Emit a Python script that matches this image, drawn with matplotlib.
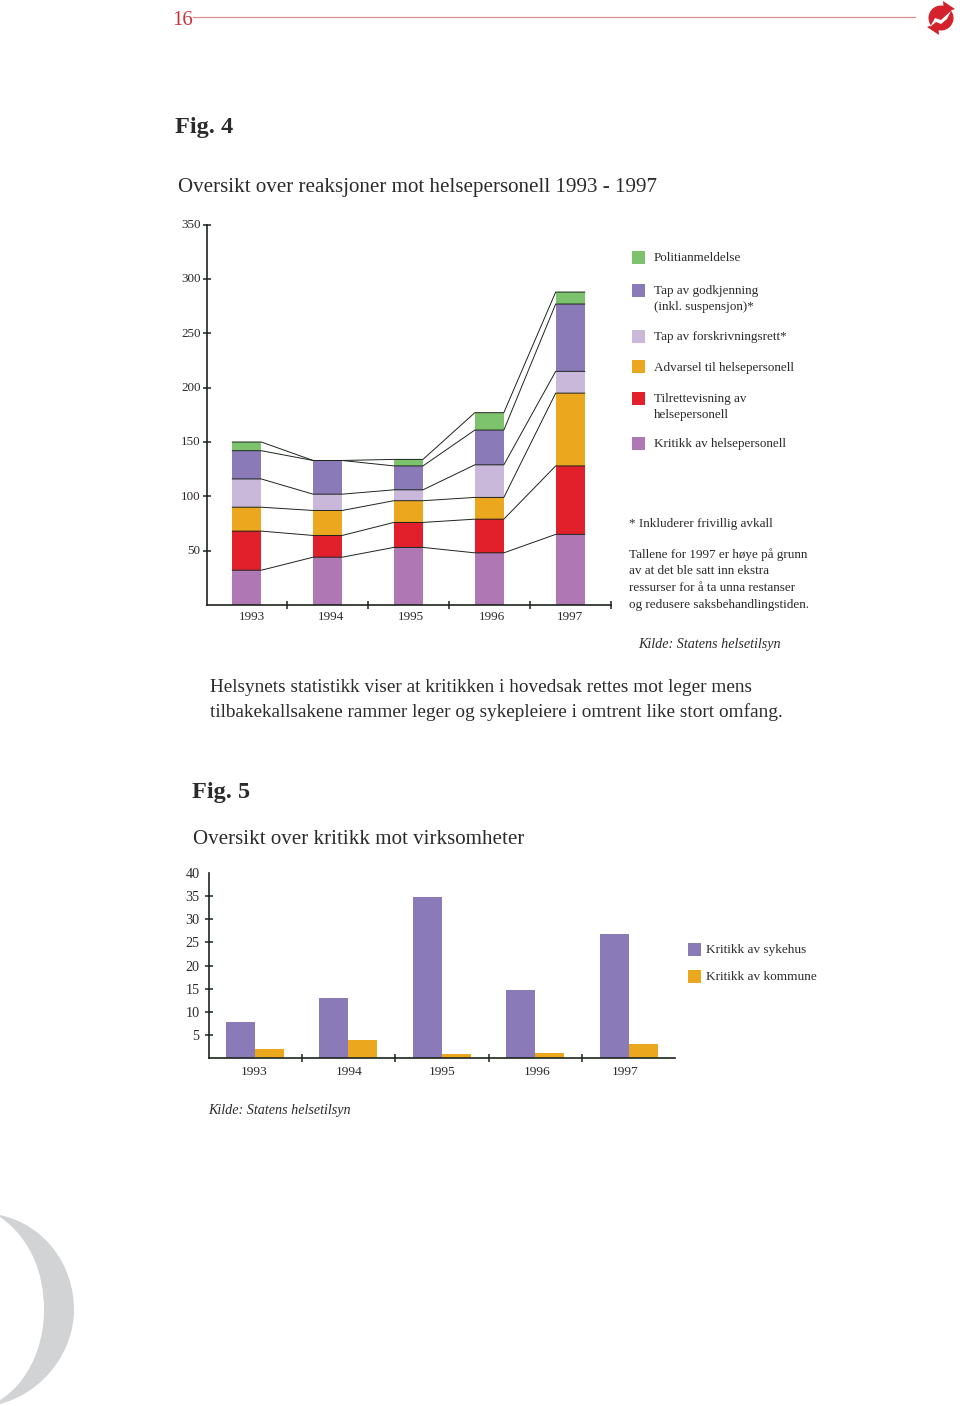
'''
Fig. 4 and Fig. 5, report page with two bar charts
'''

# import
import matplotlib
matplotlib.use('Agg')
import matplotlib.pyplot as plt
from matplotlib.patches import Circle, PathPatch, Polygon, Rectangle
from matplotlib.path import Path
from matplotlib.transforms import ScaledTranslation

plt.rcParams['font.family'] = ['Liberation Serif', 'DejaVu Serif']

# Fig. 4 data
years = ['1993', '1994', '1995', '1996', '1997']
kritikk = [32, 44, 53, 48, 65]
tilrettevisning = [36, 20, 23, 31, 63]
advarsel = [22, 23, 20, 20, 67]
forskrivning = [26, 15, 10, 30, 20]
godkjenning = [26, 31, 22, 32, 62]
politi = [8, 0, 6, 16, 11]
y_ticks_4 = [50, 100, 150, 200, 250, 300, 350]

# Fig. 5 data
sykehus = [7.8, 13, 34.8, 14.8, 26.8]
kommune = [2, 4, 1, 1.2, 3]
y_ticks_5 = [5, 10, 15, 20, 25, 30, 35, 40]

# Global parameters
W = 960
H = 1406
SMALL = 9.46
INK = '#1c241c'
TEXT = '#2b2b2b'
RED_LINE = '#d9908c'
LOGO_RED = '#d3222c'
C_KRITIKK = '#b077b5'
C_TILRETTE = '#e1202b'
C_ADVARSEL = '#eba81f'
C_FORSKRIV = '#c9b8da'
C_GODKJ = '#8b7ab8'
C_POLITI = '#7dc36d'

fig = plt.figure(figsize=(W / 100, H / 100), dpi=100)


def axes_px(left, right, top, bottom):
    return fig.add_axes([left / W, 1 - bottom / H, (right - left) / W, (bottom - top) / H])


def style_axes(ax, tick_size, pad):
    ax.spines['top'].set_visible(False)
    ax.spines['right'].set_visible(False)
    ax.spines['left'].set_linewidth(1.2)
    ax.spines['bottom'].set_linewidth(1.2)
    ax.spines['left'].set_color(INK)
    ax.spines['bottom'].set_color(INK)
    ax.patch.set_alpha(0)
    ax.tick_params(axis='both', direction='inout', length=6, width=1.1, color=INK,
                   labelsize=tick_size, labelcolor=TEXT, pad=pad)


# Page layer in pixel coordinates, only for text and decoration
page = fig.add_axes([0, 0, 1, 1])
page.set_xlim(0, W)
page.set_ylim(H, 0)
page.axis('off')


def label(x, y, s, size=SMALL, **kw):
    # va center sits a bit high for this font, push it down with the size
    page.text(x, y + size * 0.13, s, fontsize=size, color=kw.pop('color', TEXT), va='center', **kw)


# Header
label(172, 19, '16', size=15, color='#c8333a')
page.plot([193, 915], [17, 17], color=RED_LINE, lw=0.9)
# Logo, red disc with arrow heads and a white zigzag through it
page.add_patch(Circle((941, 18), 12.5, color=LOGO_RED, lw=0))
page.add_patch(Polygon([(943, 1), (955, 9), (944, 13)], color=LOGO_RED, lw=0))
page.add_patch(Polygon([(939, 35), (927, 27), (938, 23)], color=LOGO_RED, lw=0))
page.add_patch(Polygon([(930, 27), (935, 18), (941, 20), (951, 11), (947, 19), (941, 24), (936, 22)],
                       color='white', lw=0))

# Crescent at the bottom
crescent = Path([(0, 1215), (45, 1225), (74, 1265), (74, 1310), (74, 1350), (45, 1392), (0, 1404),
                 (0, 1400), (0, 1400), (0, 1400),
                 (25, 1385), (44, 1350), (44, 1310), (44, 1272), (30, 1238), (0, 1217),
                 (0, 1215)],
                [Path.MOVETO] + [Path.CURVE4] * 6 + [Path.LINETO] * 3 + [Path.CURVE4] * 6 + [Path.LINETO])
page.add_patch(PathPatch(crescent, fc='#d1d3d4', lw=0))

# Fig. 4
label(175, 125, 'Fig. 4', size=17.5, weight='bold')
label(178, 186, 'Oversikt over reaksjoner mot helsepersonell 1993 - 1997', size=15.13)

ax4 = axes_px(207, 610.6, 224.7, 605)
style_axes(ax4, SMALL, 1.5)
step4 = 80.85
ax4.set_xlim((207 - 246.8) / step4, (610.6 - 246.8) / step4)
ax4.set_ylim(0, 350)
x4 = list(range(len(years)))

series = [(kritikk, C_KRITIKK), (tilrettevisning, C_TILRETTE), (advarsel, C_ADVARSEL),
          (forskrivning, C_FORSKRIV), (godkjenning, C_GODKJ), (politi, C_POLITI)]
half4 = 29 / step4 / 2
bottoms = [0] * len(years)
for values, colour in series:
    ax4.bar(x4, values, width=2 * half4, bottom=bottoms, color=colour, linewidth=0, zorder=2)
    bottoms = [b + v for b, v in zip(bottoms, values)]
    # Lines joining the tops of the segments from bar to bar
    line_x = []
    line_y = []
    for i in x4:
        line_x += [i - half4, i + half4]
        line_y += [bottoms[i], bottoms[i]]
    ax4.plot(line_x, line_y, color=INK, lw=0.7, zorder=3, solid_joinstyle='miter')

ax4.set_yticks(y_ticks_4)
# tick labels sit about a pixel low otherwise
for tick_label in ax4.get_yticklabels():
    tick_label.set_transform(tick_label.get_transform() + ScaledTranslation(0, 1.2 / 100, fig.dpi_scale_trans))
ax4.set_xticks([i + 0.5 for i in x4])
ax4.set_xticklabels([])
label_shift_4 = [5, 3, 2, 3, 0]
for i in x4:
    label(246.8 + step4 * i + label_shift_4[i], 616, years[i], ha='center')

# Legend of Fig. 4
legend_4 = [(257, C_POLITI), (290, C_GODKJ), (336, C_FORSKRIV), (366, C_ADVARSEL), (398, C_TILRETTE), (443, C_KRITIKK)]
for y, colour in legend_4:
    page.add_patch(Rectangle((632, y - 6.5), 13, 13, color=colour, lw=0))
legend_text_4 = [(257, 'Politianmeldelse'), (290, 'Tap av godkjenning'), (306, '(inkl. suspensjon)*'),
                 (336, 'Tap av forskrivningsrett*'), (367, 'Advarsel til helsepersonell'),
                 (398, 'Tilrettevisning av'), (414, 'helsepersonell'), (443, 'Kritikk av helsepersonell')]
for y, s in legend_text_4:
    label(654, y, s)

label(629, 523, '* Inkluderer frivillig avkall')
note_lines = ['Tallene for 1997 er høye på grunn', 'av at det ble satt inn ekstra',
              'ressurser for å ta unna restanser', 'og redusere saksbehandlingstiden.']
for y, s in zip([553, 570, 587, 604], note_lines):
    label(629, y, s)
label(638, 643, 'Kilde: Statens helsetilsyn', size=10.2, style='italic')

label(210, 685.5, 'Helsynets statistikk viser at kritikken i hovedsak rettes mot leger mens', size=13.85)
label(210, 710.5, 'tilbakekallsakene rammer leger og sykepleiere i omtrent like stort omfang.', size=13.85)

# Fig. 5
label(192, 790, 'Fig. 5', size=17.5, weight='bold')
label(193, 838, 'Oversikt over kritikk mot virksomheter', size=15.13)

ax5 = axes_px(209.3, 675, 873, 1058.3)
style_axes(ax5, 10.2, 4)
step5 = 93.4
ax5.set_xlim((209.3 - 255) / step5, (675 - 255) / step5)
ax5.set_ylim(0, 40)
x5 = list(range(len(years)))
width5 = 29 / step5
ax5.bar([i - width5 / 2 for i in x5], sykehus, width=width5, color=C_GODKJ, linewidth=0, zorder=2)
ax5.bar([i + width5 / 2 for i in x5], kommune, width=width5, color=C_ADVARSEL, linewidth=0, zorder=2)
ax5.set_yticks(y_ticks_5)
ax5.yaxis.get_major_ticks()[-1].tick1line.set_visible(False)
ax5.yaxis.get_major_ticks()[-1].tick2line.set_visible(False)
ax5.set_xticks([i + 0.5 for i in x5[:-1]])
ax5.set_xticklabels([])
label_shift_5 = [-1, 0.5, 0.5, 2, -3]
for i in x5:
    label(255 + step5 * i + label_shift_5[i], 1071, years[i], size=9.7, ha='center')

# Legend of Fig. 5
for y, colour, s in [(949, C_GODKJ, 'Kritikk av sykehus'), (976, C_ADVARSEL, 'Kritikk av kommune')]:
    page.add_patch(Rectangle((688, y - 6.5), 13, 13, color=colour, lw=0))
    label(706, y, s, size=9.56)
label(208, 1109, 'Kilde: Statens helsetilsyn', size=10.2, style='italic')

fig.savefig('out.png', dpi=100)
